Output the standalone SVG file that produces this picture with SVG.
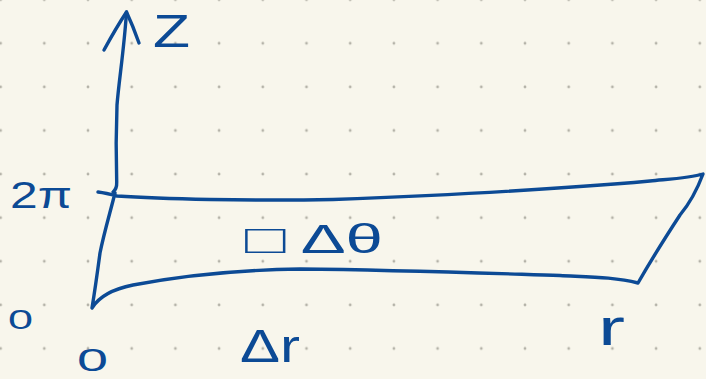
<svg xmlns="http://www.w3.org/2000/svg" width="706" height="379" viewBox="0 0 706 379">
<defs>
<pattern id="dots" patternUnits="userSpaceOnUse" x="-21.25" y="-22.1" width="43.7" height="43.6">
<circle cx="21.85" cy="21.8" r="1.4" fill="#b4b2a8"/>
</pattern>
<style>
.ink{fill:none;stroke:#0c4a95;stroke-width:3.4;stroke-linecap:round;stroke-linejoin:round}
.lbl{fill:#0c4a95;font-family:"Liberation Sans","DejaVu Sans",sans-serif}
</style>
</defs>
<rect width="706" height="379" fill="#f8f6ec"/>
<rect width="706" height="379" fill="url(#dots)"/>
<g id="connectors">
<g id="z-axis">
<path class="ink" d="M113,192 Q117,189 116.7,182 C116,160 116,130 117,105 C119,80 124,50 126.5,12"/>
<path class="ink" d="M104,50 Q116,28 126.5,12 Q133,26 139,43"/>
</g>
</g>
<g id="region">
<path class="ink" d="M98,192 Q106,193 117,196 C160,199 250,201 333,199.5 C450,195 560,189 650,181 C670,179 690,178 703,174 C697,190 690,203 680,215 C665,238 650,262 638,283 C615,277 590,277 560,275.5 C480,273 400,270 300,269 C230,270 180,276 133,285 C118,288 100,295 92,308 C95,290 98,268 100,253 C104,233 110,213 115,193"/>
</g>
<g id="labels">
<text id="label-z" class="lbl" x="153" y="47" font-size="46" textLength="37" lengthAdjust="spacingAndGlyphs">Z</text>
<text id="label-2pi" class="lbl" x="10" y="208" font-size="36" textLength="62" lengthAdjust="spacingAndGlyphs">2π</text>
<text id="label-area" class="lbl" x="245" y="253" font-size="40" textLength="138" lengthAdjust="spacingAndGlyphs">□ Δθ</text>
<text id="label-0-left" class="lbl" x="8" y="329" font-size="28" textLength="25" lengthAdjust="spacingAndGlyphs">0</text>
<text id="label-0-bottom" class="lbl" x="77" y="371" font-size="32" textLength="31" lengthAdjust="spacingAndGlyphs">0</text>
<text id="label-dr" class="lbl" x="240" y="362" font-size="46" textLength="60" lengthAdjust="spacingAndGlyphs">Δr</text>
<text id="label-r" class="lbl" x="598" y="345" font-size="52" textLength="27" lengthAdjust="spacingAndGlyphs">r</text>
</g>
</svg>
